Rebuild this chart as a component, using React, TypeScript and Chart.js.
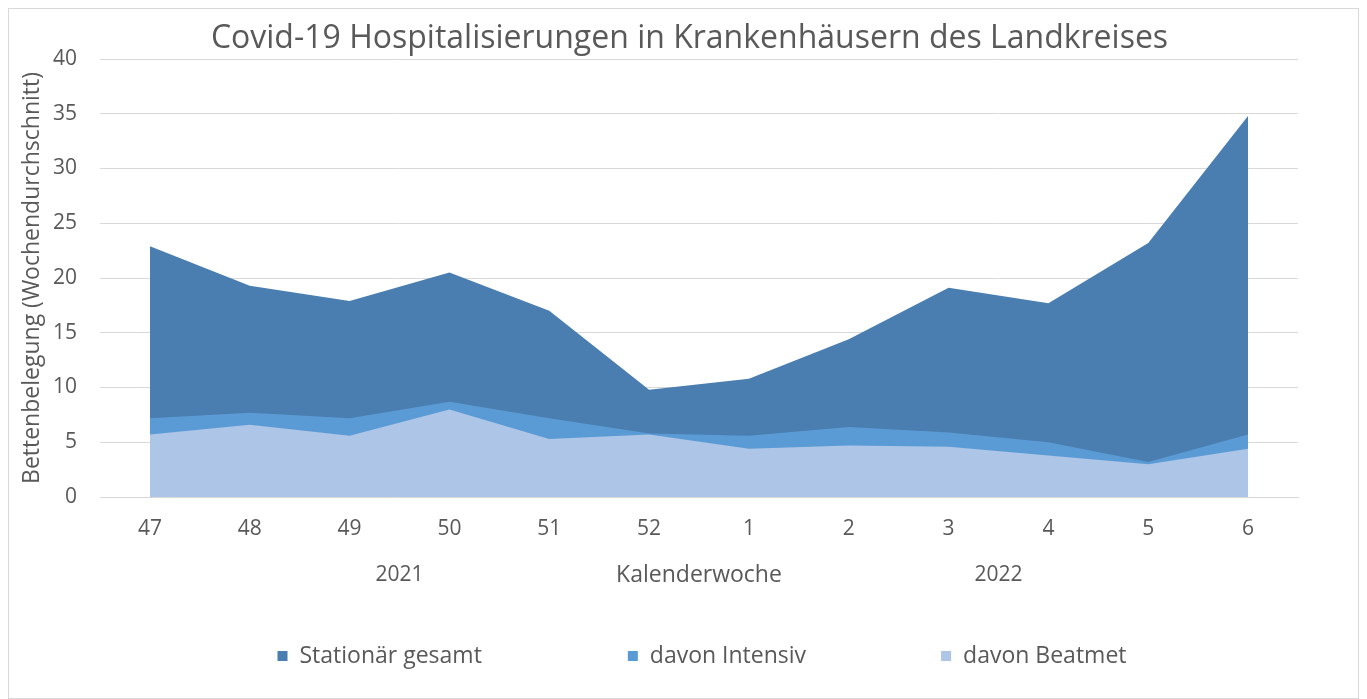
import React, { useEffect, useRef } from "react";
import { Chart, registerables } from "chart.js";

Chart.register(...registerables);

const weeks = ["47", "48", "49", "50", "51", "52", "1", "2", "3", "4", "5", "6"];
const yearGroups = ["2021", "2022"];
const yearGroupSizes = [6, 6];
const stationaer = [22.9, 19.3, 17.9, 20.5, 17.0, 9.8, 10.8, 14.4, 19.1, 17.7, 23.2, 34.8];
const intensiv = [7.2, 7.7, 7.2, 8.7, 7.2, 5.8, 5.6, 6.4, 5.9, 5.0, 3.2, 5.7];
const beatmet = [5.7, 6.6, 5.6, 8.0, 5.3, 5.7, 4.4, 4.7, 4.6, 3.8, 3.0, 4.4];

const chartTitle = "Covid-19 Hospitalisierungen in Krankenhäusern des Landkreises";
const seriesNames = ["Stationär gesamt", "davon Intensiv", "davon Beatmet"];
const seriesColors = ["#4A7EB0", "#5B9BD5", "#ADC5E6"];

const FONT = '"Open Sans", "Noto Sans", sans-serif';
const TEXT = "#595959";

const extrasPlugin = {
  id: "extras",
  afterDraw(chart: any) {
    const ctx = chart.ctx;
    const xs = chart.scales.x;
    const area = chart.chartArea;
    ctx.save();
    // chart title
    ctx.font = `32px ${FONT}`;
    ctx.fillStyle = TEXT;
    ctx.textAlign = "center";
    ctx.textBaseline = "middle";
    ctx.fillText(chartTitle, chart.width / 2 + 6, 30);
    // year group labels
    ctx.font = `21px ${FONT}`;
    let start = 0;
    const yy = xs.bottom - 22;
    yearGroups.forEach((g, i) => {
      const end = start + yearGroupSizes[i] - 1;
      const cx = (xs.getPixelForValue(start) + xs.getPixelForValue(end)) / 2;
      ctx.fillText(g, cx, yy);
      start += yearGroupSizes[i];
    });
    // legend
    ctx.font = `23px ${FONT}`;
    const box = 10;
    const gap = 12;
    const spacings = [146, 135];
    const widths = seriesNames.map((n) => ctx.measureText(n).width);
    const total =
      widths.reduce((a, b) => a + b + box + gap, 0) + spacings.reduce((a, b) => a + b, 0);
    let lx = (area.left + area.right) / 2 - total / 2 + 3;
    const ly = chart.height - 42;
    ctx.textAlign = "left";
    seriesNames.forEach((n, i) => {
      ctx.fillStyle = seriesColors[i];
      ctx.fillRect(lx, ly - box / 2, box, box);
      ctx.fillStyle = TEXT;
      ctx.fillText(n, lx + box + gap, ly);
      lx += box + gap + widths[i] + (spacings[i] || 0);
    });
    ctx.restore();
  },
};

export default function App() {
  const ref = useRef<HTMLCanvasElement | null>(null);

  useEffect(() => {
    if (!ref.current) return;
    const mk = (i: number, data: number[], order: number) => ({
      label: seriesNames[i],
      data,
      backgroundColor: seriesColors[i],
      borderColor: seriesColors[i],
      borderWidth: 0,
      pointRadius: 0,
      tension: 0,
      fill: "origin",
      order,
    });
    const chart = new Chart(ref.current, {
      type: "line",
      data: {
        labels: weeks,
        datasets: [mk(0, stationaer, 3), mk(1, intensiv, 2), mk(2, beatmet, 1)],
      },
      options: {
        responsive: true,
        maintainAspectRatio: false,
        animation: false,
        layout: { padding: { left: 8, right: 60, top: 50, bottom: 101 } },
        plugins: {
          legend: { display: false },
          tooltip: { enabled: false },
          title: { display: false },
        },
        scales: {
          x: {
            offset: true,
            grid: { display: false, drawTicks: false },
            border: { display: true, color: "#D9D9D9" },
            ticks: {
              color: TEXT,
              font: { family: FONT, size: 21 },
              padding: 19,
              maxRotation: 0,
              autoSkip: false,
            },
            title: {
              display: true,
              text: "Kalenderwoche",
              color: TEXT,
              font: { family: FONT, size: 23 },
              padding: { top: 4, bottom: 8 },
            },
            afterFit(s: any) {
              s.height = 100;
            },
          },
          y: {
            min: 0,
            max: 40,
            ticks: {
              stepSize: 5,
              color: TEXT,
              font: { family: FONT, size: 21 },
              padding: 23,
            },
            grid: { color: "#D9D9D9", drawTicks: false },
            border: { display: false },
            title: {
              display: true,
              text: "Bettenbelegung (Wochendurchschnitt)",
              color: TEXT,
              font: { family: FONT, size: 23 },
              padding: { top: 2, bottom: 0 },
            },
            afterFit(s: any) {
              s.width = 83;
            },
          },
        },
      } as any,
      plugins: [extrasPlugin],
    });
    return () => chart.destroy();
  }, []);

  return (
    <div
      style={{
        width: 1351,
        height: 691,
        border: "1px solid #D9D9D9",
        boxSizing: "border-box",
        position: "relative",
        background: "#fff",
      }}
    >
      <canvas ref={ref} />
    </div>
  );
}
